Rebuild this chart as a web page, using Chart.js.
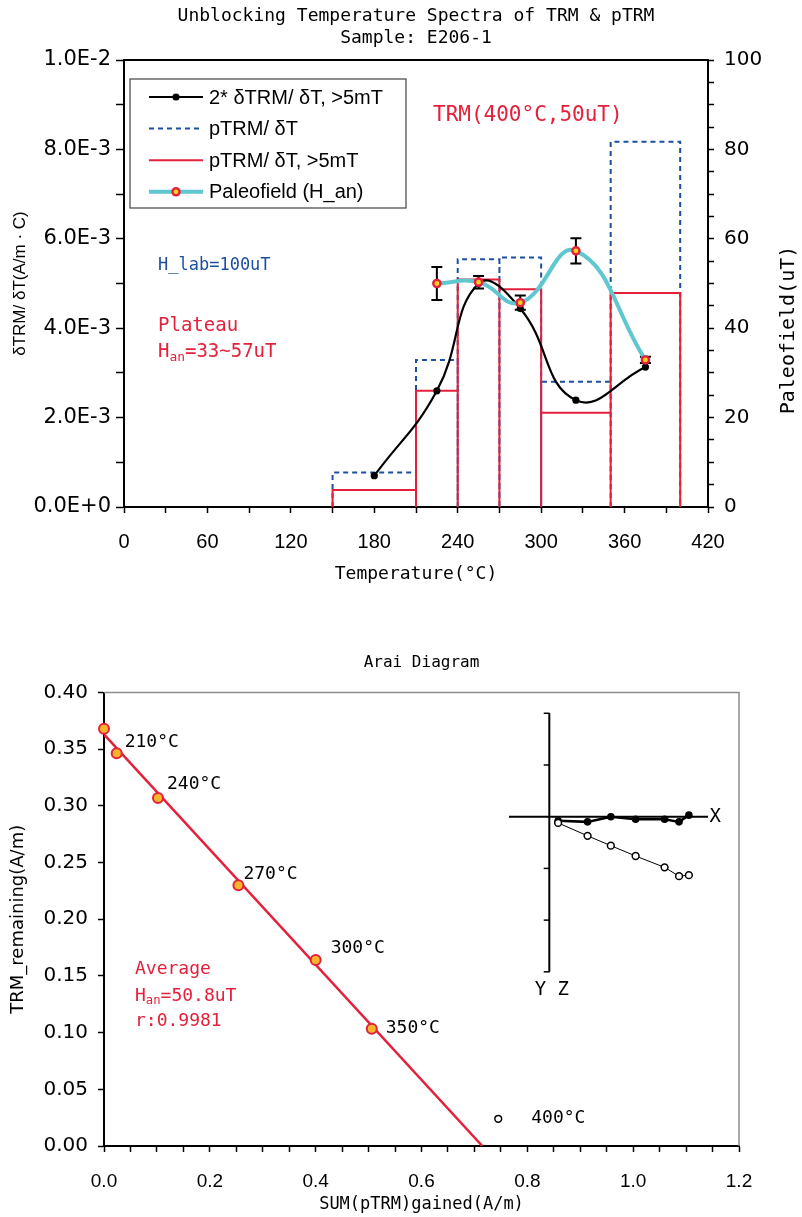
<!DOCTYPE html>
<html>
<head>
<meta charset="utf-8">
<title>TRM / pTRM spectra and Arai diagram</title>
<script src="https://cdn.jsdelivr.net/npm/chart.js@4.4.1/dist/chart.umd.min.js"></script>
<style>
  html, body { margin: 0; padding: 0; background: #fff; }
  #wrap { position: relative; width: 802px; height: 1217px; }
  canvas { position: absolute; left: 0; }
</style>
</head>
<body>
<div id="wrap">
  <canvas id="spectra" width="802" height="600" style="top:0"></canvas>
  <canvas id="arai" width="802" height="617" style="top:600px"></canvas>
  <canvas id="zij" width="240" height="300" style="left:500px; top:700px"></canvas>
</div>
<script>
// ---- unblocking spectra ----
const binEdges = [150, 210, 240, 270, 300, 350, 400];            // °C
const pTRM = [0.00077, 0.00329, 0.00554, 0.00558, 0.00280, 0.00817];
const pTRM5mT = [0.00038, 0.00260, 0.00509, 0.00487, 0.00211, 0.00479];

const trmTemps = [180, 225, 255, 285, 325, 375];
const dTRM = [0.00070, 0.00260, 0.00500, 0.00444, 0.00239, 0.00313];

const fieldTemps = [225, 255, 285, 325, 375];
const paleofield = [50.0, 50.3, 45.7, 57.3, 32.9];                // uT
const fieldErr = [3.7, 1.4, 1.6, 2.8, 0.7];

const tempTickLabels = ['0', '60', '120', '180', '240', '300', '360', '420'];
const rateTickLabels = ['0.0E+0', '2.0E-3', '4.0E-3', '6.0E-3', '8.0E-3', '1.0E-2'];
const fieldTickLabels = ['0', '20', '40', '60', '80', '100'];

// ---- Arai diagram ----
const araiGained = [0.000, 0.024, 0.102, 0.254, 0.400, 0.506];
const araiRemaining = [0.368, 0.3465, 0.307, 0.230, 0.164, 0.1035];
const araiSteps = ['', '210°C', '240°C', '270°C', '300°C', '350°C'];
const outGained = [0.745];
const outRemaining = [0.024];
const outSteps = ['400°C'];
const fitGained = [0, 0.715];
const fitRemaining = [0.363, 0];
const gainedTickLabels = ['0.0', '0.2', '0.4', '0.6', '0.8', '1.0', '1.2'];
const remainTickLabels = ['0.00', '0.05', '0.10', '0.15', '0.20', '0.25', '0.30', '0.35', '0.40'];

// ---- orthogonal (Zijderveld) projection ----
const zijX = [0.17, 0.74, 1.19, 1.67, 2.23, 2.51, 2.70];
const zijY = [-0.08, -0.10, 0.00, -0.05, -0.05, -0.10, 0.03];
const zijZ = [-0.12, -0.37, -0.56, -0.76, -0.98, -1.15, -1.13];
const zijTicks = [2, 1, -1, -2, -3];

const RED = '#e4203b', BLUE = '#1c4f9f', CYAN = '#5ec7d0', YELLOW = '#f5d21c', ORANGE = '#f7b52c';
const MONO = '"DejaVu Sans Mono", monospace';
const SANS = '"Liberation Sans", Arial, sans-serif';
const WIDE = '"DejaVu Sans", Verdana, sans-serif';

const toPts = (xs, ys) => xs.map((x, i) => ({x, y: ys[i]}));

// each temperature bin as an open-bottomed rectangle; a null point breaks the line between bins
function binOutline(edges, heights) {
  const pts = [];
  heights.forEach((h, i) => {
    pts.push({x: edges[i], y: 0}, {x: edges[i], y: h}, {x: edges[i + 1], y: h}, {x: edges[i + 1], y: 0},
      {x: edges[i + 1], y: null});
  });
  return pts;
}

// text with an inline subscript, e.g. H_an
function drawParts(ctx, x, y, parts, size) {
  let cx = x;
  parts.forEach(([t, sub]) => {
    ctx.font = (sub ? size * 0.68 : size) + 'px ' + MONO;
    ctx.fillText(t, cx, sub ? y + size * 0.28 : y);
    cx += ctx.measureText(t).width;
  });
}

const tickGrid = (len) => ({drawOnChartArea: false, tickLength: len, tickColor: '#000', tickWidth: 1.5});

const spectraDecor = {
  id: 'spectraDecor',
  afterDatasetDraw(chart, args) {
    if (args.index !== 2) return;   // error bars go over the black curve, under the paleofield markers
    const {ctx, scales: {x, y2}} = chart;
    ctx.save();
    ctx.strokeStyle = '#000';
    ctx.lineWidth = 2;
    fieldTemps.forEach((t, i) => {
      const px = x.getPixelForValue(t);
      const top = y2.getPixelForValue(paleofield[i] + fieldErr[i]);
      const bot = y2.getPixelForValue(paleofield[i] - fieldErr[i]);
      ctx.beginPath();
      ctx.moveTo(px, top); ctx.lineTo(px, bot);
      ctx.moveTo(px - 5.5, top); ctx.lineTo(px + 5.5, top);
      ctx.moveTo(px - 5.5, bot); ctx.lineTo(px + 5.5, bot);
      ctx.stroke();
    });
    ctx.restore();
  },
  afterDraw(chart) {
    const {ctx, chartArea: a} = chart;
    ctx.save();
    ctx.strokeStyle = '#000';
    ctx.lineWidth = 2;
    ctx.beginPath(); ctx.moveTo(a.left, a.top); ctx.lineTo(a.right, a.top); ctx.stroke();

    // legend box inside the plot
    const lx = 130, ly = 79, lw = 276, lh = 129;
    ctx.fillStyle = '#fff';
    ctx.fillRect(lx, ly, lw, lh);
    ctx.strokeStyle = '#444';
    ctx.lineWidth = 1.2;
    ctx.strokeRect(lx, ly, lw, lh);
    ctx.textBaseline = 'middle';
    [2, 0, 1, 3].forEach((idx, row) => {
      const ds = chart.data.datasets[idx];
      const y = ly + 18 + row * 31.6;
      ctx.setLineDash(ds.borderDash || []);
      ctx.strokeStyle = ds.borderColor;
      ctx.lineWidth = ds.borderWidth;
      ctx.beginPath(); ctx.moveTo(149, y); ctx.lineTo(203, y); ctx.stroke();
      ctx.setLineDash([]);
      if (ds.pointRadius > 0) {
        ctx.beginPath();
        ctx.arc(176, y, ds.pointRadius, 0, Math.PI * 2);
        ctx.fillStyle = ds.pointBackgroundColor;
        ctx.fill();
        if (ds.pointBorderWidth) {
          ctx.lineWidth = ds.pointBorderWidth;
          ctx.strokeStyle = ds.pointBorderColor;
          ctx.stroke();
        }
      }
      ctx.fillStyle = '#000';
      ctx.font = '20px ' + SANS;
      ctx.fillText(ds.label, 209, y + 1);
    });

    // notes
    ctx.fillStyle = RED;
    ctx.font = '21px ' + MONO;
    ctx.fillText('TRM(400°C,50uT)', 433, 116);
    ctx.fillStyle = BLUE;
    ctx.font = '17px ' + MONO;
    ctx.fillText('H_lab=100uT', 158, 266);
    ctx.fillStyle = RED;
    ctx.font = '19px ' + MONO;
    ctx.fillText('Plateau', 158, 326);
    drawParts(ctx, 158, 352, [['H', false], ['an', true], ['=33~57uT', false]], 19);

    // right axis title reads bottom-to-top
    ctx.fillStyle = '#000';
    ctx.font = '20px ' + MONO;
    ctx.textAlign = 'center';
    ctx.translate(789, 330);
    ctx.rotate(-Math.PI / 2);
    ctx.fillText('Paleofield(uT)', 0, 0);
    ctx.restore();
  }
};

new Chart(document.getElementById('spectra'), {
  type: 'scatter',
  data: {
    datasets: [
      {
        label: 'pTRM/ δT', data: binOutline(binEdges, pTRM), showLine: true, tension: 0, spanGaps: false,
        borderColor: BLUE, borderWidth: 2, borderDash: [5, 4], pointRadius: 0, yAxisID: 'y', order: 4
      },
      {
        label: 'pTRM/ δT, >5mT', data: binOutline(binEdges, pTRM5mT), showLine: true, tension: 0, spanGaps: false,
        borderColor: RED, borderWidth: 2, pointRadius: 0, yAxisID: 'y', order: 3
      },
      {
        label: '2* δTRM/ δT, >5mT', data: toPts(trmTemps, dTRM), showLine: true, tension: 0.45,
        borderColor: '#000', borderWidth: 2.2, pointRadius: 3.6, pointBackgroundColor: '#000',
        pointBorderWidth: 0, yAxisID: 'y', order: 2
      },
      {
        label: 'Paleofield (H_an)', data: toPts(fieldTemps, paleofield), showLine: true, tension: 0.45,
        borderColor: CYAN, borderWidth: 4, pointRadius: 3.6,
        pointBackgroundColor: YELLOW, pointBorderColor: RED, pointBorderWidth: 2.4, yAxisID: 'y2', order: 1
      }
    ]
  },
  options: {
    responsive: false,
    animation: false,
    events: [],
    layout: {padding: 0, autoPadding: false},
    plugins: {
      legend: {display: false},
      tooltip: {enabled: false},
      title: {
        display: true, fullSize: false,
        text: ['Unblocking Temperature Spectra of TRM & pTRM', 'Sample: E206-1'],
        color: '#000', font: {family: MONO, size: 18, weight: 'normal', lineHeight: 1.2},
        padding: {top: 6, bottom: 10.8}
      }
    },
    scales: {
      x: {
        type: 'linear', min: 0, max: 420,
        ticks: {
          stepSize: 30, autoSkip: false, maxRotation: 0, color: '#000', padding: 17,
          font: {family: SANS, size: 20},
          callback: (v, i) => (i % 2 === 0 ? tempTickLabels[i / 2] : '')
        },
        grid: tickGrid(6),
        border: {color: '#000', width: 2},
        title: {display: true, text: 'Temperature(°C)', color: '#000',
          font: {family: MONO, size: 18, lineHeight: 1.2}, padding: {top: 0, bottom: 15}},
        afterFit: s => { s.height = 93; }
      },
      y: {
        position: 'left', min: 0, max: 0.01,
        ticks: {
          stepSize: 0.001, autoSkip: false, color: '#000', padding: 5,
          font: {family: WIDE, size: 21},
          callback: (v, i) => (i % 2 === 0 ? rateTickLabels[i / 2] : '')
        },
        grid: tickGrid(8),
        border: {color: '#000', width: 2},
        title: {display: true, text: 'δTRM/ δT(A/m · C)', color: '#000',
          font: {family: SANS, size: 17, lineHeight: 1.2}, padding: {top: 10, bottom: 0}},
        afterFit: s => { s.width = 124; }
      },
      y2: {
        position: 'right', min: 0, max: 100,
        ticks: {
          stepSize: 5, autoSkip: false, color: '#000', padding: 10,
          font: {family: WIDE, size: 20},
          callback: (v, i) => (i % 4 === 0 ? fieldTickLabels[i / 4] : '')
        },
        grid: tickGrid(6),
        border: {color: '#000', width: 2},
        afterFit: s => { s.width = 94; }
      }
    }
  },
  plugins: [spectraDecor]
});

// ---- Arai diagram ----
const stepOffsets = [null, [8, -11], [9, -14], [5, -11], [15, -12], [14, 0]];

const araiDecor = {
  id: 'araiDecor',
  beforeDatasetsDraw(chart) {
    const {ctx, chartArea: a} = chart;
    ctx.save();
    ctx.strokeStyle = '#8d8d8d';
    ctx.lineWidth = 1.5;
    ctx.beginPath();
    ctx.moveTo(a.left, a.top); ctx.lineTo(a.right, a.top); ctx.lineTo(a.right, a.bottom);
    ctx.stroke();
    ctx.restore();
  },
  afterDatasetsDraw(chart) {
    const {ctx} = chart;
    ctx.save();
    ctx.fillStyle = '#000';
    ctx.font = '18px ' + MONO;
    ctx.textBaseline = 'middle';
    chart.getDatasetMeta(1).data.forEach((pt, i) => {
      if (!araiSteps[i]) return;
      const [dx, dy] = stepOffsets[i];
      ctx.fillText(araiSteps[i], pt.x + dx, pt.y + dy);
    });
    chart.getDatasetMeta(2).data.forEach((pt, i) => {
      ctx.fillText(outSteps[i], pt.x + 33, pt.y);
    });

    ctx.fillStyle = RED;
    ctx.font = '18px ' + MONO;
    ctx.fillText('Average', 135, 369);
    drawParts(ctx, 135, 396, [['H', false], ['an', true], ['=50.8uT', false]], 18);
    ctx.font = '18px ' + MONO;
    ctx.fillText('r:0.9981', 135, 421);
    ctx.restore();
  }
};

new Chart(document.getElementById('arai'), {
  type: 'scatter',
  data: {
    datasets: [
      {
        data: toPts(fitGained, fitRemaining), showLine: true, borderColor: RED, borderWidth: 2.5,
        pointRadius: 0, order: 3
      },
      {
        data: toPts(araiGained, araiRemaining), pointRadius: 5, pointBackgroundColor: ORANGE,
        pointBorderColor: RED, pointBorderWidth: 2, clip: false, order: 2
      },
      {
        data: toPts(outGained, outRemaining), pointRadius: 3.4, pointBackgroundColor: '#fff',
        pointBorderColor: '#000', pointBorderWidth: 1.5, order: 1
      }
    ]
  },
  options: {
    responsive: false,
    animation: false,
    events: [],
    layout: {padding: {top: 0, left: 0, right: 63, bottom: 0}, autoPadding: false},
    plugins: {
      legend: {display: false},
      tooltip: {enabled: false},
      title: {
        display: true, fullSize: false, text: 'Arai Diagram', color: '#000',
        font: {family: MONO, size: 16, weight: 'normal', lineHeight: 1.2},
        padding: {top: 53, bottom: 20.3}
      }
    },
    scales: {
      x: {
        type: 'linear', min: 0, max: 1.2,
        ticks: {
          stepSize: 0.05, autoSkip: false, maxRotation: 0, color: '#000', padding: 18,
          font: {family: SANS, size: 19},
          callback: (v, i) => (i % 4 === 0 ? gainedTickLabels[i / 4] : '')
        },
        grid: tickGrid(6),
        border: {color: '#000', width: 2},
        title: {display: true, text: 'SUM(pTRM)gained(A/m)', color: '#000',
          font: {family: MONO, size: 17, lineHeight: 1.2}, padding: {top: 0, bottom: 2}},
        afterFit: s => { s.height = 71; }
      },
      y: {
        min: 0, max: 0.4,
        ticks: {
          stepSize: 0.05, autoSkip: false, color: '#000', padding: 10,
          font: {family: WIDE, size: 20},
          callback: (v, i) => remainTickLabels[i]
        },
        grid: tickGrid(6),
        border: {color: '#000', width: 2},
        title: {display: true, text: 'TRM_remaining(A/m)', color: '#000',
          font: {family: WIDE, size: 18, lineHeight: 1.2}, padding: {top: 8, bottom: 0}},
        afterFit: s => { s.width = 104; }
      }
    }
  },
  plugins: [araiDecor]
});

// ---- orthogonal projection inset ----
const zijLabels = {
  id: 'zijLabels',
  afterDatasetsDraw(chart) {
    const {ctx, scales: {x, y}} = chart;
    ctx.save();
    ctx.fillStyle = '#000';
    ctx.font = '19px ' + MONO;
    ctx.textBaseline = 'middle';
    ctx.fillText('X', x.getPixelForValue(3.1), y.getPixelForValue(0));
    ctx.textAlign = 'center';
    ctx.fillText('Y Z', x.getPixelForValue(0.05), y.getPixelForValue(-3.35));
    ctx.restore();
  }
};

new Chart(document.getElementById('zij'), {
  type: 'scatter',
  data: {
    datasets: [
      {data: [{x: 0, y: 2}, {x: 0, y: -3}], showLine: true, borderColor: '#000', borderWidth: 2, pointRadius: 0},
      {data: [{x: -0.78, y: 0}, {x: 3.07, y: 0}], showLine: true, borderColor: '#000', borderWidth: 2, pointRadius: 0},
      {data: zijTicks.map(t => ({x: -0.05, y: t})), pointStyle: 'line', pointRadius: 3,
        pointBorderColor: '#000', pointBorderWidth: 1.5},
      {
        data: toPts(zijX, zijZ), showLine: true, borderColor: '#000', borderWidth: 1,
        pointRadius: 3.4, pointBackgroundColor: '#fff', pointBorderColor: '#000', pointBorderWidth: 1.5
      },
      {
        data: toPts(zijX, zijY), showLine: true, borderColor: '#000', borderWidth: 2.5,
        pointRadius: 3.8, pointBackgroundColor: '#000', pointBorderWidth: 0
      }
    ]
  },
  options: {
    responsive: false,
    animation: false,
    events: [],
    layout: {padding: 0, autoPadding: false},
    plugins: {legend: {display: false}, tooltip: {enabled: false}},
    scales: {
      x: {type: 'linear', min: -0.954, max: 3.689, display: false},
      y: {type: 'linear', min: -3.545, max: 2.257, display: false}
    }
  },
  plugins: [zijLabels]
});
</script>
</body>
</html>
